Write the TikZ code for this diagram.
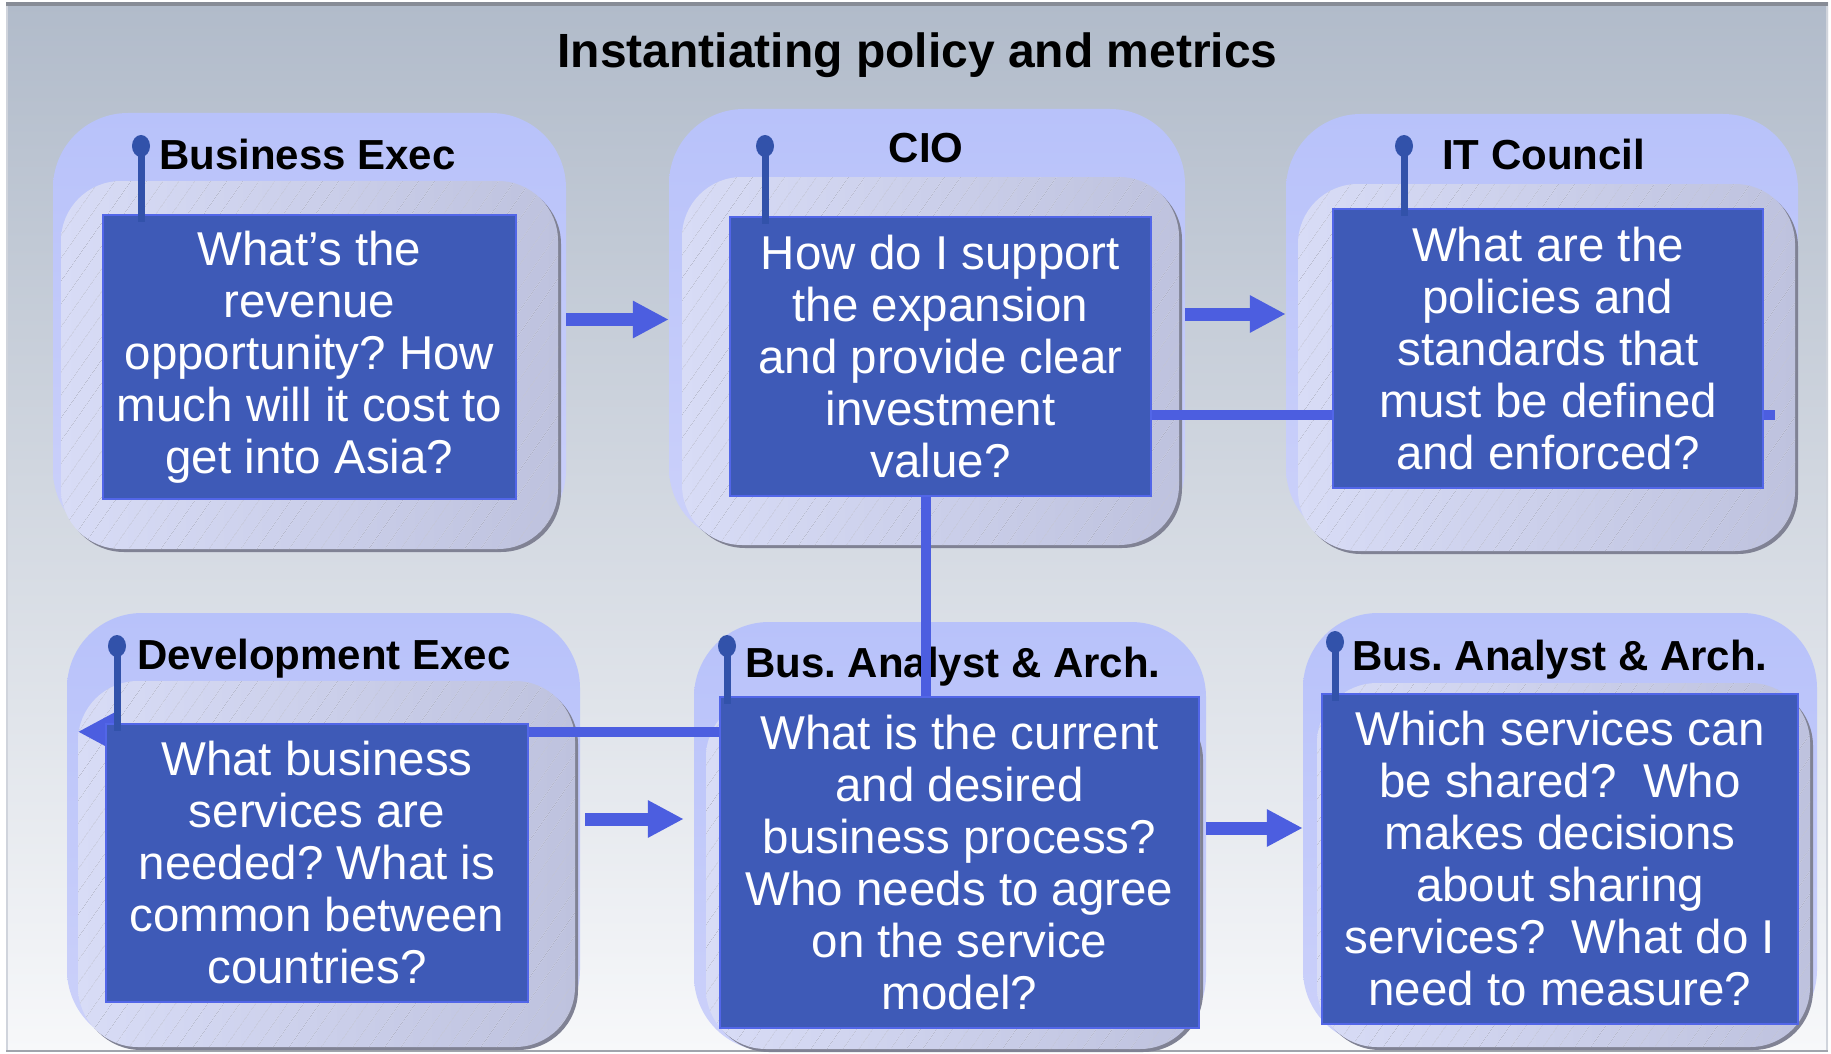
\documentclass[tikz,border=0pt]{standalone}
\usepackage{fontspec}
\setmainfont{Liberation Sans}
\usetikzlibrary{calc,arrows.meta,patterns.meta,shadows}
\definecolor{bgtop}{RGB}{177,187,202}
\definecolor{bgbot}{RGB}{247,248,250}
\definecolor{frametop}{RGB}{135,140,150}
\definecolor{framelight}{RGB}{208,212,220}
\definecolor{framebot}{RGB}{160,164,172}
\definecolor{lilac}{RGB}{184,194,250}
\definecolor{lilacb}{RGB}{204,209,250}
\definecolor{paneltl}{RGB}{216,220,246}
\definecolor{panelbr}{RGB}{190,194,222}
\definecolor{hatch}{RGB}{165,168,190}
\definecolor{rim}{RGB}{128,130,148}
\definecolor{qblue}{RGB}{62,90,183}
\definecolor{qedge}{RGB}{82,102,232}
\definecolor{flow}{RGB}{76,94,224}
\definecolor{pinblue}{RGB}{50,82,170}
\pgfdeclarelayer{back}
\pgfsetlayers{back,main}
\frenchspacing

\begin{document}
\begin{tikzpicture}[x=1pt,y=-1pt,
    outerbox/.style={top color=lilac, bottom color=lilacb, rounded corners=75pt, inner sep=0pt},
    panel/.style={left color=paneltl, right color=panelbr, rounded corners=60pt, inner sep=0pt,
        drop shadow={shadow xshift=3pt, shadow yshift=-3pt, fill=rim, opacity=1},
        postaction={pattern={Lines[angle=55,distance=13pt,line width=0.5pt]}, pattern color=hatch}},
    qbox/.style={fill=qblue, draw=qedge, line width=2.5pt, text=white, align=center, inner sep=0pt,
        font=\fontsize{47.5}{52}\selectfont},
    role/.style={font=\bfseries\fontsize{42}{46}\selectfont, inner sep=0pt},
    fat/.style={flow, line width=13pt, -{Triangle[width=35pt,length=36pt]}},
    conn/.style={flow, line width=10pt},
    pinline/.style={pinblue, line width=7pt}]
    \useasboundingbox (0,0) rectangle (1831,1054);

    % question boxes
    \node[qbox, minimum width=413pt, minimum height=284pt] (bexec) at (309.5,357) {What’s the\\revenue\\opportunity? How\\much will it cost to\\get into Asia?};
    \node[qbox, minimum width=421pt, minimum height=279pt] (cio) at (940.5,356.5) {How do I support\\the expansion\\and provide clear\\investment\\value?};
    \node[qbox, minimum width=430pt, minimum height=279pt] (itcouncil) at (1548,348.5) {What are the\\policies and\\standards that\\must be defined\\and enforced?};
    \node[qbox, minimum width=422pt, minimum height=278pt] (devexec) at (317,863) {What business\\services are\\needed? What is\\common between\\countries?};
    \node[qbox, minimum width=479pt, minimum height=331pt] (busarch) at (959.5,862.5) {What is the current\\and desired\\business process?\\Who needs to agree\\on the service\\model?};
    \node[qbox, minimum width=476pt, minimum height=330pt] (busarch2) at (1560,859) {Which services can\\be shared?~ Who\\makes decisions\\about sharing\\services?~ What do I\\need to measure?};

    \begin{pgfonlayer}{back}
    \fill[white] (0,0) rectangle (1831,1054);
    \shade[top color=bgtop, bottom color=bgbot] (6,3) rectangle (1828,1051);
    \draw[line width=4pt, frametop] (6,4) -- (1828,4);
    \draw[line width=2pt, framelight] (7,6) -- (7,1051) (1827,6) -- (1827,1051);
    \draw[line width=2pt, framebot] (6,1051) -- (1828,1051);

    \node[font=\bfseries\fontsize{48}{52}\selectfont, anchor=base, inner sep=0pt] (title) at (917.5,68) {Instantiating policy and metrics};

    \node[outerbox, minimum width=513pt, minimum height=432pt] (bexec-o) at (309.5,329) {};
    \node[outerbox, minimum width=516pt, minimum height=434pt] (cio-o) at (927,326) {};
    \node[outerbox, minimum width=512pt, minimum height=429pt] (itcouncil-o) at (1542,328.5) {};
    \node[outerbox, minimum width=513pt, minimum height=432pt] (devexec-o) at (323.5,829) {};
    \node[outerbox, minimum width=512pt, minimum height=429pt] (busarch-o) at (950,836.5) {};
    \node[outerbox, minimum width=514pt, minimum height=432pt] (busarch2-o) at (1560,829) {};

    \node[panel, minimum width=497pt, minimum height=368pt] (bexec-i) at (309.5,365) {};
    \node[panel, minimum width=497pt, minimum height=368pt] (cio-i) at (930.5,361) {};
    \node[panel, minimum width=497pt, minimum height=367pt] (itcouncil-i) at (1546.5,367.5) {};
    \node[panel, minimum width=497pt, minimum height=366pt] (devexec-i) at (326.5,864) {};
    \node[panel, minimum width=494pt, minimum height=352pt] (busarch-i) at (953,873) {};
    \node[panel, minimum width=493pt, minimum height=364pt] (busarch2-i) at (1563.5,865) {};

    \node[role, anchor=base west] (bexec-l) at (159,169) {Business Exec};
    \node[role, anchor=base] (cio-l) at (926,163) {CIO};
    \node[role, anchor=base west] (itcouncil-l) at (1442,169) {IT Council};
    \node[role, anchor=base west] (devexec-l) at (137,669) {Development Exec};
    \node[role, anchor=base west] (busarch-l) at (745,677) {Bus. Analyst \& Arch.};
    \node[role, anchor=base west] (busarch2-l) at (1352,670) {Bus. Analyst \& Arch.};

    \coordinate (f1) at ([yshift=9.5pt]bexec-o.east);
    \coordinate (f2) at ([yshift=12pt]cio-o.east);
    \coordinate (f3) at ([yshift=10pt]devexec-o.east);
    \coordinate (f4) at ([yshift=8.5pt]busarch-o.east);
    \draw[fat] (f1) -- (f1 -| cio-o.west);
    \draw[fat] (f2) -- (f2 -| itcouncil-o.west);
    \draw[fat, shorten <=5pt, shorten >=10pt] (f3) -- (f3 -| busarch-o.west);
    \draw[fat] (f4) -- (f4 -| busarch2-o.west);

    \coordinate (itstub) at (1775,415);
    \coordinate (back) at ([yshift=-9pt]devexec.north);
    \draw[conn] (cio.east |- itstub) -- (itstub);
    \draw[conn] (cio-l |- cio.south) -- (cio-l |- busarch.north);
    \draw[conn, -{Triangle[width=35pt,length=36pt]}] (busarch.west |- back) -- (devexec-i.west |- back);
    \end{pgfonlayer}

    % pins
    \foreach \n/\px/\py in {bexec/141/146, cio/765/146, itcouncil/1404/146, devexec/117/646, busarch/727/646, busarch2/1335/642}{
        \coordinate (\n-p) at (\px,\py);
        \draw[pinline] (\n-p) -- (\n-p |- \n.north) -- ++(0,8);
        \fill[pinblue] (\n-p) ellipse [x radius=9pt, y radius=11pt];
    }
\end{tikzpicture}
\end{document}
